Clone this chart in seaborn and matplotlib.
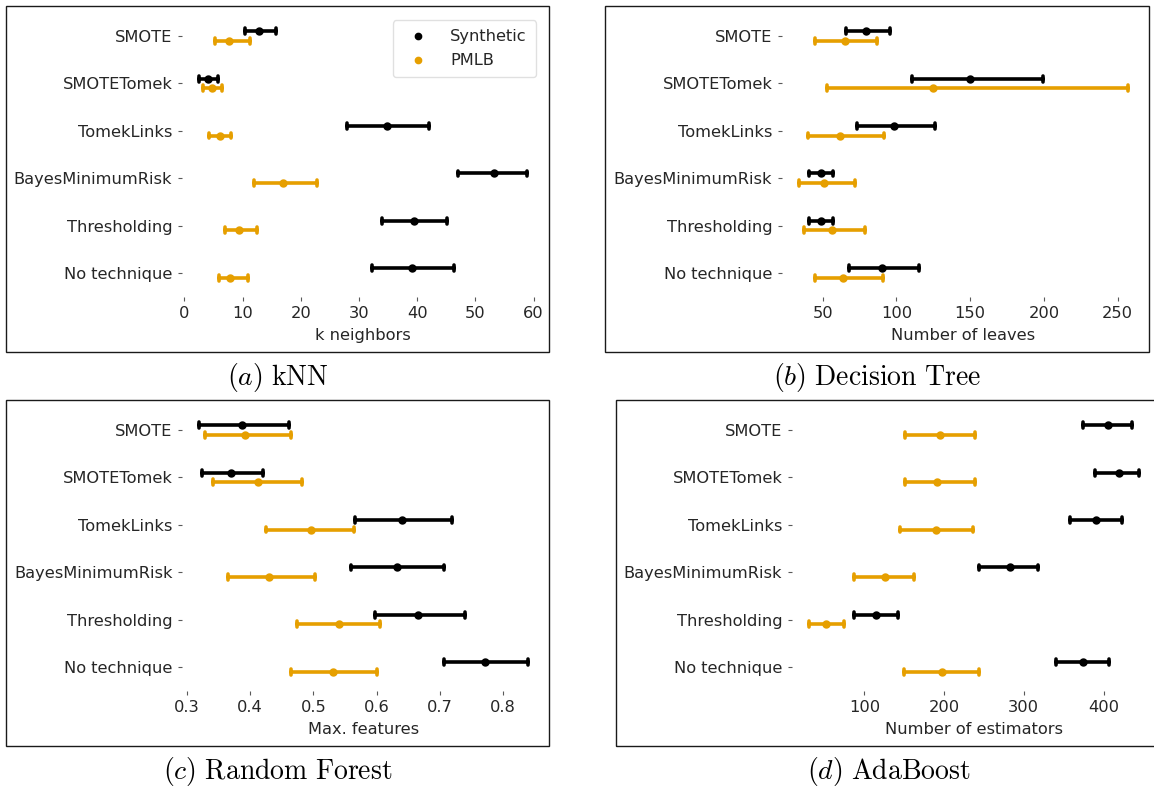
import matplotlib
matplotlib.use("Agg")
import matplotlib.pyplot as plt
from matplotlib.patches import Rectangle
import pandas as pd
import seaborn as sns

# Techniques, top to bottom
techniques = ["SMOTE", "SMOTETomek", "TomekLinks", "BayesMinimumRisk",
              "Thresholding", "No technique"]
sources = ["Synthetic", "PMLB"]

# (lower, estimate, upper) per technique
knn_synthetic = [(10.4, 12.9, 15.8), (2.5, 4.0, 5.8), (28.0, 34.9, 42.0),
                 (47.0, 53.2, 58.9), (34.0, 39.4, 45.2), (32.3, 39.2, 46.4)]
knn_pmlb = [(5.2, 7.7, 11.2), (3.2, 4.7, 6.5), (4.3, 6.1, 8.0),
            (11.9, 16.9, 22.8), (7.0, 9.4, 12.5), (6.0, 7.9, 10.9)]

tree_synthetic = [(65.6, 79.2, 95.5), (110.4, 149.9, 199.2), (73.5, 98.6, 125.9),
                  (40.7, 48.6, 57.2), (40.7, 48.6, 57.2), (68.0, 90.2, 115.4)]
tree_pmlb = [(45.2, 65.1, 87.1), (53.1, 124.7, 256.7), (39.9, 61.7, 91.7),
             (33.7, 51.2, 72.0), (37.1, 56.7, 78.7), (44.7, 64.1, 90.7)]

forest_synthetic = [(0.319, 0.387, 0.461), (0.324, 0.370, 0.420), (0.566, 0.640, 0.719),
                    (0.559, 0.633, 0.706), (0.598, 0.665, 0.740), (0.706, 0.772, 0.839)]
forest_pmlb = [(0.328, 0.392, 0.465), (0.341, 0.412, 0.482), (0.425, 0.497, 0.565),
               (0.365, 0.430, 0.502), (0.474, 0.540, 0.606), (0.464, 0.531, 0.601)]

ada_synthetic = [(374.3, 405.8, 436.3), (389.8, 419.9, 444.8), (357.5, 391.1, 422.6),
                 (244.0, 282.6, 318.0), (87.6, 114.6, 142.1), (340.2, 373.9, 406.6)]
ada_pmlb = [(150.5, 194.8, 239.1), (151.0, 191.3, 238.3), (144.3, 189.5, 236.9),
            (87.6, 125.7, 162.9), (30.9, 52.1, 74.7), (149.6, 197.5, 244.0)]

x_labels = ["k neighbors", "Number of leaves", "Max. features", "Number of estimators"]
captions = [r"$(a)\ \mathrm{kNN}$", r"$(b)\ \mathrm{Decision\ Tree}$",
            r"$(c)\ \mathrm{Random\ Forest}$", r"$(d)\ \mathrm{AdaBoost}$"]

palette = {"Synthetic": "black", "PMLB": "#E69F00"}

W, H = 1154, 792
FS = 11.7
sns.set_theme(style="ticks")
plt.rcParams["font.family"] = ["DejaVu Sans"]
plt.rcParams["mathtext.fontset"] = "cm"

fig = plt.figure(figsize=(W / 100, H / 100), dpi=100)


def frac(left, top, right, bottom):
    return [left / W, 1 - bottom / H, (right - left) / W, (bottom - top) / H]


def long_form(synthetic, pmlb):
    rows = []
    for source, series in (("Synthetic", synthetic), ("PMLB", pmlb)):
        for tech, triple in zip(techniques, series):
            for v in triple:
                rows.append({"technique": tech, "source": source, "value": v})
    return pd.DataFrame(rows)


panels = [
    (knn_synthetic, knn_pmlb, (182, 12.3, 544, 296.7), (-0.4, 61.8), (6, 6, 549, 352)),
    (tree_synthetic, tree_pmlb, (782, 12.3, 1144.3, 296.7), (22.5, 268), (605, 6, 1149, 352)),
    (forest_synthetic, forest_pmlb, (182.4, 406.3, 544.2, 690.7), (0.293, 0.865), (6, 400, 549, 746)),
    (ada_synthetic, ada_pmlb, (792, 406.3, 1156, 690.7), (9.3, 465.8), (616, 400, 1162, 746)),
]

for i, (syn, pml, axbox, xlim, frame) in enumerate(panels):
    ax = fig.add_axes(frac(*axbox))
    df = long_form(syn, pml)
    sns.pointplot(
        data=df, x="value", y="technique", hue="source",
        order=techniques, hue_order=sources, palette=palette,
        estimator="median", errorbar=lambda v: (v.min(), v.max()),
        dodge=0.2, capsize=0.12, linestyle="none", markers="o",
        markersize=4, err_kws={"linewidth": 2.6},
        legend=(i == 0), ax=ax,
    )
    ax.set_xlim(*xlim)
    ax.set_ylim(5.5, -0.5)
    ax.set_ylabel("")
    ax.set_xlabel(x_labels[i], fontsize=FS, color="#262626", labelpad=5)
    ax.tick_params(axis="both", labelsize=FS, length=3, width=0.8,
                   color="0.35", labelcolor="#262626", pad=4)
    for s in ax.spines.values():
        s.set_visible(False)
    if i == 0:
        leg = ax.legend(loc="upper right", fontsize=FS, frameon=True,
                        handletextpad=1.0, borderpad=0.55, labelspacing=0.55)
        leg.get_frame().set_edgecolor("0.85")
        for h in leg.legend_handles:
            h.set_markersize(3.5)

    l, t, r, b = frame
    fig.add_artist(Rectangle((l / W, 1 - b / H), (r - l) / W, (b - t) / H,
                             transform=fig.transFigure, fill=False,
                             edgecolor="#1a1a1a", linewidth=1.0))
    cy = b + 26
    fig.text(((l + r) / 2) / W, 1 - cy / H, captions[i], fontsize=20,
             ha="center", va="center", color="black")

fig.savefig("out.png", dpi=100)
